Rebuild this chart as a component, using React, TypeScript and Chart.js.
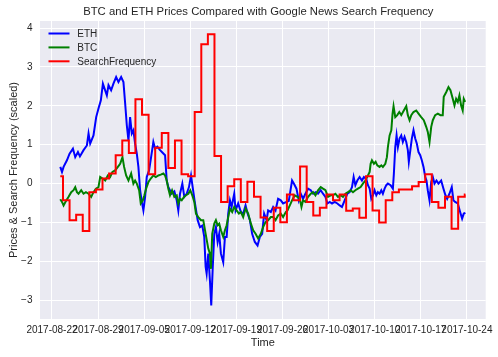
import React, { useEffect, useRef } from 'react';
import { Chart, registerables } from 'chart.js';

Chart.register(...registerables);

const TITLE = 'BTC and ETH Prices Compared with Google News Search Frequency';
const X_LABEL = 'Time';
const Y_LABEL = 'Prices & Search Frequency (scaled)';
const START_DATE_UTC = Date.UTC(2017, 7, 22);

const xTickDays = [0, 7, 14, 21, 28, 35, 42, 49, 56, 63];
const yTickValues = [-3, -2, -1, 0, 1, 2, 3, 4];

// days since 2017-08-22
const ethDays = [1.26,1.52,1.76,2.27,2.67,3.18,3.53,3.94,4.24,4.79,5.30,5.55,5.80,6.30,6.71,7.06,7.42,7.73,8.33,8.58,8.98,9.33,9.74,10.09,10.50,10.85,11.11,11.36,11.61,11.86,12.12,12.36,12.62,12.88,13.12,13.38,13.64,13.88,14.14,14.39,14.74,15.05,15.39,15.65,16.00,16.41,16.76,17.17,17.42,17.67,18.18,18.58,18.94,19.18,19.44,19.79,20.09,20.45,20.80,21.11,21.36,21.71,22.12,22.47,22.82,23.12,23.33,23.48,23.73,23.98,24.18,24.39,24.64,24.89,25.15,25.39,25.65,26.00,26.26,26.52,26.76,27.02,27.27,27.67,27.88,28.27,28.68,29.03,29.39,29.70,30.05,30.39,30.80,31.21,31.56,31.91,32.21,32.58,32.82,33.23,33.58,33.94,34.33,34.74,35.09,35.61,35.95,36.45,36.76,37.12,37.47,37.77,38.12,38.48,38.88,39.29,39.64,40.05,40.39,40.80,41.15,41.52,41.82,42.17,42.52,42.92,43.33,43.68,44.03,44.44,44.85,45.20,45.55,45.80,46.06,46.36,46.71,47.06,47.36,47.73,47.97,48.23,48.48,48.73,48.98,49.24,49.48,49.74,50.00,50.24,50.50,50.76,51.00,51.41,51.76,51.91,52.12,52.32,52.52,52.77,53.03,53.27,53.53,53.79,54.03,54.18,54.44,54.64,54.89,55.15,55.39,55.65,55.91,56.15,56.41,56.67,56.86,57.06,57.32,57.58,57.82,58.08,58.38,58.68,59.09,59.44,59.74,60.00,60.35,60.70,60.95,61.21,61.61,61.97,62.27,62.52,62.77];
const ethValues = [0.43,0.30,0.43,0.60,0.77,0.90,0.68,0.81,0.70,0.86,0.98,1.29,1.03,1.24,1.71,1.93,2.14,2.57,2.27,2.53,2.40,2.57,2.74,2.61,2.74,2.61,2.06,1.50,1.11,1.71,1.29,1.37,1.03,0.77,0.43,-0.17,-0.47,-0.69,-0.34,0.17,0.34,0.68,1.07,0.90,0.95,0.86,0.80,0.73,0.08,-0.09,-0.26,-0.20,-0.43,-0.69,-0.26,0.00,-0.34,-0.26,-0.09,0.21,-0.09,-0.51,-0.94,-1.12,-1.08,-1.37,-2.14,-2.31,-1.80,-2.49,-3.13,-2.23,-1.29,-1.12,-1.50,-1.29,-1.80,-2.02,-1.37,-1.37,-0.77,-0.43,-0.60,-0.26,-0.69,-0.51,-0.73,-0.77,-0.56,-0.77,-0.94,-1.29,-1.50,-1.59,-1.37,-1.29,-0.77,-0.94,-0.69,-0.73,-0.60,-0.69,-0.39,-0.43,-0.51,-0.47,-0.45,0.08,-0.01,-0.13,-0.43,-0.26,-0.39,-0.26,-0.13,-0.17,-0.26,-0.22,-0.26,-0.17,-0.26,-0.34,-0.51,-0.47,-0.51,-0.47,-0.51,-0.56,-0.60,-0.43,-0.26,-0.22,-0.09,0.17,-0.04,0.08,0.17,0.08,0.17,0.12,-0.04,-0.13,-0.39,-0.30,-0.17,-0.30,-0.22,-0.26,-0.17,-0.26,-0.13,-0.04,0.00,-0.04,-0.13,0.26,0.94,1.24,0.94,1.16,1.24,1.07,1.20,1.07,0.86,0.56,0.90,1.16,1.37,1.16,1.03,0.81,0.73,0.60,0.43,0.17,0.08,-0.17,-0.43,0.04,0.17,0.00,0.08,0.00,0.08,-0.13,-0.30,-0.39,-0.26,-0.09,-0.43,-0.47,-0.51,-0.73,-0.90,-0.77,-0.75];

const btcDays = [1.26,1.52,1.76,2.12,2.52,2.92,3.27,3.53,3.79,4.03,4.44,4.79,5.15,5.55,5.95,6.30,6.67,7.06,7.32,7.67,8.08,8.48,8.83,9.18,9.59,10.00,10.35,10.70,10.95,11.26,11.61,12.02,12.36,12.62,12.88,13.23,13.48,13.79,14.03,14.29,14.64,15.00,15.39,15.76,16.15,16.52,16.91,17.17,17.42,17.67,17.92,18.23,18.58,18.94,19.18,19.44,19.70,20.05,20.35,20.70,21.00,21.30,21.61,21.86,22.21,22.62,22.97,23.33,23.73,23.98,24.14,24.33,24.64,24.89,25.15,25.39,25.65,26.00,26.26,26.52,26.76,27.02,27.36,27.67,28.03,28.38,28.68,29.03,29.39,29.79,30.20,30.55,30.91,31.30,31.71,32.06,32.42,32.82,33.23,33.58,33.94,34.33,34.74,35.09,35.50,35.76,36.11,36.45,36.86,37.27,37.62,37.88,38.12,38.48,38.88,39.29,39.64,40.00,40.39,40.80,41.15,41.52,41.91,42.32,42.67,43.03,43.42,43.83,44.18,44.55,44.94,45.35,45.70,46.06,46.45,46.86,47.21,47.58,47.97,48.23,48.38,48.58,48.88,49.14,49.39,49.74,50.00,50.24,50.61,50.85,51.00,51.26,51.52,51.71,51.86,52.12,52.42,52.73,53.03,53.42,53.79,54.03,54.29,54.55,54.89,55.30,55.65,56.06,56.45,56.82,57.06,57.32,57.58,57.82,58.18,58.58,58.98,59.33,59.48,59.85,60.20,60.50,60.85,61.11,61.36,61.61,61.86,62.12,62.36,62.52,62.73];
const btcValues = [-0.40,-0.47,-0.56,-0.45,-0.34,-0.22,-0.17,-0.09,-0.22,-0.26,-0.17,-0.26,-0.22,-0.26,-0.34,-0.22,-0.13,-0.09,0.17,0.13,0.08,0.21,0.17,0.30,0.34,0.43,0.51,0.68,0.43,0.21,0.08,0.26,0.00,0.08,0.00,-0.17,-0.51,-0.43,-0.30,-0.13,0.04,0.13,0.21,0.17,0.21,0.23,0.26,0.21,0.08,-0.13,-0.30,-0.17,-0.34,-0.30,-0.51,-0.39,-0.43,-0.34,-0.30,-0.26,-0.17,-0.30,-0.47,-0.77,-0.86,-0.94,-0.94,-1.29,-1.67,-1.80,-2.19,-1.29,-1.03,-0.94,-1.07,-1.03,-1.20,-1.37,-1.20,-1.07,-0.86,-0.64,-0.73,-0.60,-0.69,-0.77,-0.73,-0.86,-0.64,-0.77,-1.03,-1.20,-1.29,-1.41,-1.29,-1.12,-0.99,-0.94,-0.86,-0.86,-0.94,-0.82,-0.77,-0.86,-0.73,-0.69,-0.56,-0.43,-0.30,-0.34,-0.39,-0.60,-0.43,-0.47,-0.34,-0.26,-0.22,-0.30,-0.17,-0.09,-0.13,-0.17,-0.34,-0.30,-0.30,-0.26,-0.34,-0.30,-0.34,-0.26,-0.22,-0.17,-0.22,-0.17,-0.13,-0.09,0.00,0.08,0.21,0.30,0.51,0.60,0.51,0.56,0.47,0.43,0.47,0.43,0.51,0.68,0.94,1.24,1.37,1.80,1.99,1.71,1.76,1.84,1.76,1.88,1.99,1.76,1.63,1.76,1.84,1.88,1.80,1.71,1.63,1.46,1.33,1.07,1.46,1.63,1.76,1.80,1.76,1.76,2.23,2.35,2.48,2.40,2.18,2.01,2.18,2.10,2.27,2.01,1.88,2.18,2.10];

// daily search frequency (scaled); each day's value holds from its day boundary to the next
const searchFirstDay = 1.26;
const searchLastDay = 62.77;
const searchDayOffset = 0.67;
const searchFrequency = [0.19,-0.43,-0.94,-0.80,-1.22,-0.22,-0.15,0.13,0.26,0.73,1.11,0.79,2.17,1.77,0.24,0.92,1.30,0.40,1.11,0.24,0.19,1.84,3.58,3.84,0.71,-0.47,-0.07,0.11,-0.47,0.05,-0.34,-0.87,-1.22,-0.62,-0.99,-0.28,-0.43,0.44,-0.47,-0.82,-0.62,-0.28,-0.43,-0.28,-0.70,-0.64,-0.88,0.19,-0.69,-1.00,-0.43,-0.22,-0.15,-0.15,-0.07,0.04,0.24,-0.47,-0.62,-0.34,-1.16,-0.34,-0.28];

const FONT = "'Liberation Sans', Arial, sans-serif";
const TEXT_COLOR = '#262626';
const LINE_WIDTH = 2;

function formatDay(v: number): string {
  const d = new Date(START_DATE_UTC + Math.round(v) * 86400000);
  return d.toISOString().slice(0, 10);
}

const seriesMeta = [
  { label: 'ETH', color: '#0000ff' },
  { label: 'BTC', color: '#008000' },
  { label: 'SearchFrequency', color: '#ff0000' },
];

const decorPlugin = {
  id: 'decor',
  beforeDraw(chart: any) {
    const { ctx, chartArea: a } = chart;
    ctx.save();
    ctx.fillStyle = '#EAEAF2';
    ctx.fillRect(a.left, a.top, a.right - a.left, a.bottom - a.top);
    ctx.restore();
  },
  afterDraw(chart: any) {
    const { ctx, chartArea: a } = chart;
    ctx.save();
    ctx.fillStyle = TEXT_COLOR;
    ctx.font = `11.3px ${FONT}`;
    ctx.textAlign = 'center';
    ctx.textBaseline = 'alphabetic';
    ctx.fillText(TITLE, (a.left + a.right) / 2 - 4.5, 15.3);
    ctx.font = `10px ${FONT}`;
    ctx.textAlign = 'left';
    ctx.textBaseline = 'middle';
    seriesMeta.forEach((s, i) => {
      const y = a.top + 12.5 + i * 13.9;
      ctx.strokeStyle = s.color;
      ctx.lineWidth = LINE_WIDTH;
      ctx.beginPath();
      ctx.moveTo(a.left + 8.5, y);
      ctx.lineTo(a.left + 29.5, y);
      ctx.stroke();
      ctx.fillStyle = TEXT_COLOR;
      ctx.fillText(s.label, a.left + 37.3, y + 0.5);
    });
    ctx.restore();
  },
};

export default function App() {
  const canvasRef = useRef<HTMLCanvasElement | null>(null);

  useEffect(() => {
    const canvas = canvasRef.current;
    if (!canvas) return;

    const ethData = ethDays.map((d, i) => ({ x: d, y: ethValues[i] }));
    const btcData = btcDays.map((d, i) => ({ x: d, y: btcValues[i] }));
    const searchData = searchFrequency.map((v, i) => ({
      x: Math.max(searchFirstDay, searchDayOffset + i),
      y: v,
    }));
    searchData.push({ x: searchLastDay, y: searchFrequency[searchFrequency.length - 1] });

    const chart = new Chart(canvas, {
      type: 'line',
      data: {
        datasets: [
          {
            label: 'ETH',
            data: ethData,
            borderColor: seriesMeta[0].color,
            backgroundColor: seriesMeta[0].color,
            borderWidth: LINE_WIDTH,
            pointRadius: 0,
            tension: 0,
            order: 3,
          },
          {
            label: 'BTC',
            data: btcData,
            borderColor: seriesMeta[1].color,
            backgroundColor: seriesMeta[1].color,
            borderWidth: LINE_WIDTH,
            pointRadius: 0,
            tension: 0,
            order: 2,
          },
          {
            label: 'SearchFrequency',
            data: searchData,
            borderColor: seriesMeta[2].color,
            backgroundColor: seriesMeta[2].color,
            borderWidth: LINE_WIDTH,
            pointRadius: 0,
            stepped: true,
            order: 1,
          },
        ],
      },
      options: {
        responsive: false,
        animation: false,
        devicePixelRatio: 1,
        layout: { padding: { left: 0, top: 21, right: 12, bottom: 0 } },
        plugins: {
          legend: { display: false },
          title: { display: false },
          tooltip: { enabled: false },
        },
        scales: {
          x: {
            type: 'linear',
            min: -1.82,
            max: 65.85,
            afterBuildTicks: (s: any) => {
              s.ticks = xTickDays.map((v) => ({ value: v }));
            },
            afterFit: (s: any) => {
              s.height = 38;
            },
            grid: { color: '#ffffff', lineWidth: 1, drawTicks: false },
            border: { display: false },
            ticks: {
              autoSkip: false,
              maxRotation: 0,
              minRotation: 0,
              padding: 5,
              color: TEXT_COLOR,
              font: { family: FONT, size: 10 },
              callback: (v: any) => formatDay(Number(v)),
            },
            title: {
              display: true,
              text: X_LABEL,
              color: TEXT_COLOR,
              font: { family: FONT, size: 11 },
              padding: { top: 0, bottom: 7 },
            },
          },
          y: {
            type: 'linear',
            min: -3.48,
            max: 4.18,
            afterBuildTicks: (s: any) => {
              s.ticks = yTickValues.map((v) => ({ value: v }));
            },
            afterFit: (s: any) => {
              s.width = 40;
            },
            grid: { color: '#ffffff', lineWidth: 1, drawTicks: false },
            border: { display: false },
            ticks: {
              padding: 7.5,
              color: TEXT_COLOR,
              font: { family: FONT, size: 10 },
              callback: (v: any) => {
                const n = Number(v);
                return n < 0 ? '\u2212' + Math.abs(n) : String(n);
              },
            },
            title: {
              display: true,
              text: Y_LABEL,
              color: TEXT_COLOR,
              font: { family: FONT, size: 11 },
              padding: { top: 7, bottom: 0 },
            },
          },
        },
      },
      plugins: [decorPlugin],
    });

    return () => {
      chart.destroy();
    };
  }, []);

  return (
    <div style={{ position: 'fixed', left: 0, top: 0, width: 498, height: 357, background: '#ffffff' }}>
      <canvas ref={canvasRef} width={498} height={357} style={{ display: 'block', width: 498, height: 357 }} />
    </div>
  );
}
